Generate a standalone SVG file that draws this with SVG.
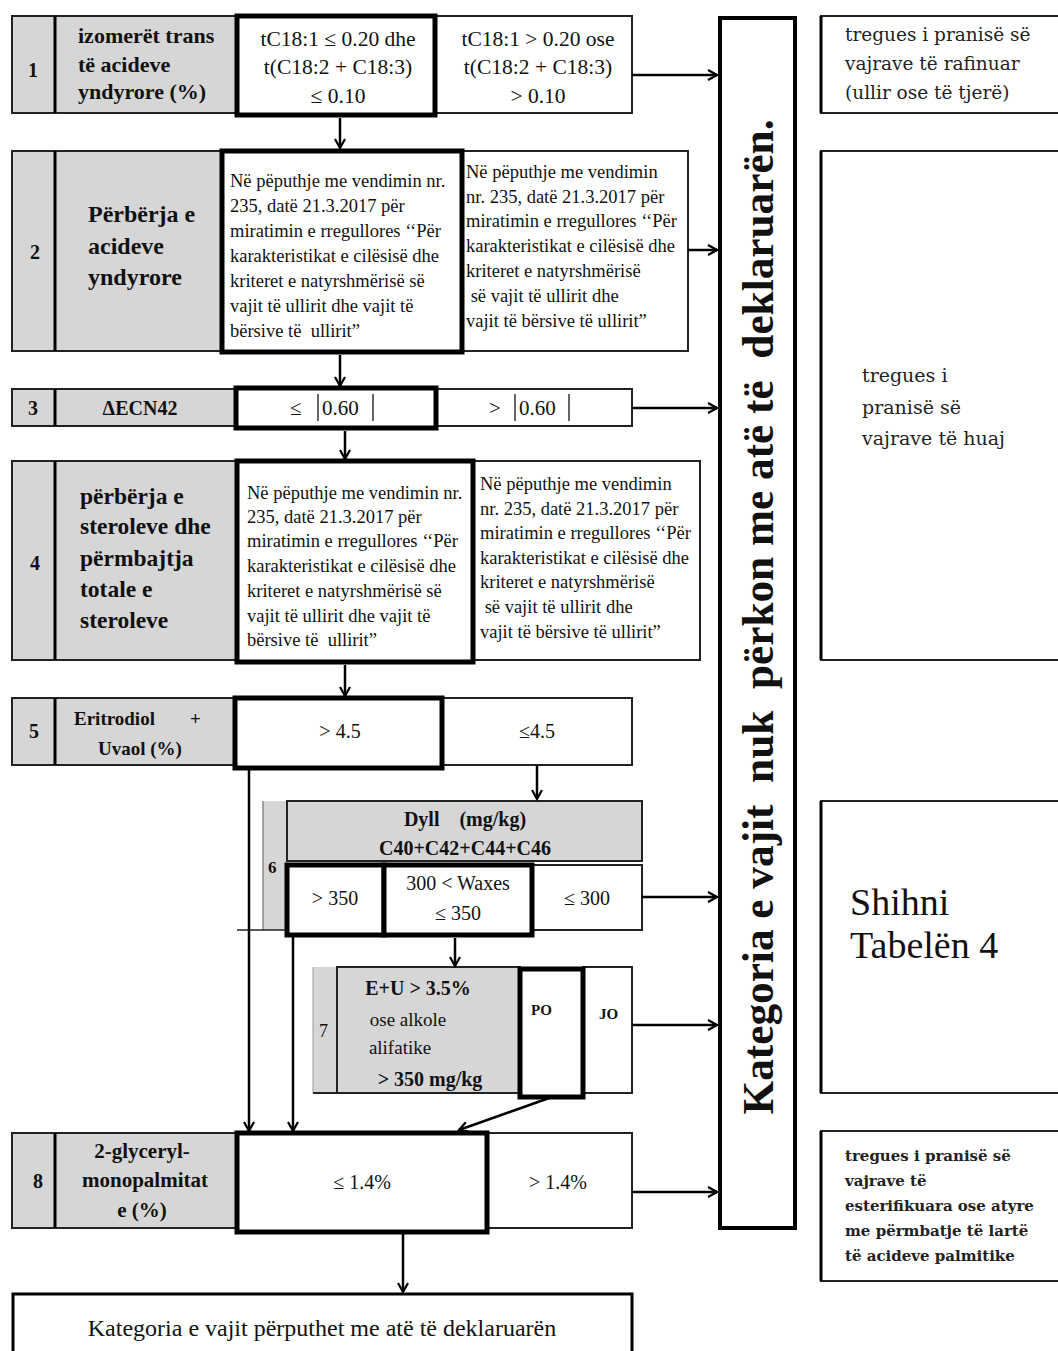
<svg xmlns="http://www.w3.org/2000/svg" width="1058" height="1351" viewBox="0 0 1058 1351">
<style>
.g{fill:#d6d6d6;stroke:#222;stroke-width:2}
.w{fill:#fff;stroke:#222;stroke-width:2}
.k{fill:#fff;stroke:#000;stroke-width:5}
.d{stroke:#000;stroke-width:3}
.t{font-family:"Liberation Serif",serif;fill:#111}
.b{font-weight:bold}
.n{font-family:"Liberation Serif",serif;font-weight:bold;font-size:20px;fill:#111;text-anchor:middle}
.s{font-family:"Liberation Serif",serif;font-size:18.5px;fill:#111}
.c{text-anchor:middle}
.r{font-family:"DejaVu Serif",serif;fill:#222}
.con{stroke:#000;stroke-width:2.5;fill:none}
</style>
<defs>
<marker id="a" markerWidth="12" markerHeight="12" refX="10" refY="6" orient="auto" markerUnits="userSpaceOnUse">
<path d="M1,1 L10,6 L1,11" fill="none" stroke="#000" stroke-width="2.2"/>
</marker>
</defs>
<rect width="1058" height="1351" fill="#fff"/>

<g id="row1">
<rect class="g" x="12" y="16" width="43" height="97"/>
<rect class="g" x="55" y="16" width="182" height="97"/>
<rect class="w" x="435" y="16" width="197" height="97"/>
<rect class="k" x="237" y="16" width="198" height="99"/>
<line class="d" x1="55" y1="16" x2="55" y2="113"/>
<text class="n" x="33" y="77">1</text>
<text class="t b" font-size="22" x="78" y="43">izomerët trans</text>
<text class="t b" font-size="22" x="78" y="72">të acideve</text>
<text class="t b" font-size="22" x="78" y="99">yndyrore (%)</text>
<text class="t c" font-size="21.5" x="338" y="46">tC18:1 ≤ 0.20 dhe</text>
<text class="t c" font-size="21.5" x="338" y="74">t(C18:2 + C18:3)</text>
<text class="t c" font-size="21.5" x="338" y="103">≤ 0.10</text>
<text class="t c" font-size="21.5" x="538" y="46">tC18:1 &gt; 0.20 ose</text>
<text class="t c" font-size="21.5" x="538" y="74">t(C18:2 + C18:3)</text>
<text class="t c" font-size="21.5" x="538" y="103">&gt; 0.10</text>
</g>

<g id="row2">
<rect class="g" x="12" y="151" width="43" height="200"/>
<rect class="g" x="55" y="151" width="167" height="200"/>
<rect class="w" x="462" y="151" width="226" height="200"/>
<rect class="k" x="222" y="151" width="240" height="201"/>
<line class="d" x1="55" y1="151" x2="55" y2="351"/>
<text class="n" x="35" y="259">2</text>
<text class="t b" font-size="24" x="88" y="222">Përbërja e</text>
<text class="t b" font-size="24" x="88" y="254">acideve</text>
<text class="t b" font-size="24" x="88" y="285">yndyrore</text>
<text class="s" x="230" y="187">Në pëputhje me vendimin nr.</text>
<text class="s" x="230" y="212">235, datë 21.3.2017 për</text>
<text class="s" x="230" y="237">miratimin e rregullores ‘‘Për</text>
<text class="s" x="230" y="262">karakteristikat e cilësisë dhe</text>
<text class="s" x="230" y="287">kriteret e natyrshmërisë së</text>
<text class="s" x="230" y="312">vajit të ullirit dhe vajit të</text>
<text class="s" x="230" y="337" xml:space="preserve">bërsive të  ullirit”</text>
<text class="s" x="466" y="178">Në pëputhje me vendimin</text>
<text class="s" x="466" y="203">nr. 235, datë 21.3.2017 për</text>
<text class="s" x="466" y="227">miratimin e rregullores ‘‘Për</text>
<text class="s" x="466" y="252">karakteristikat e cilësisë dhe</text>
<text class="s" x="466" y="277">kriteret e natyrshmërisë</text>
<text class="s" x="466" y="302" xml:space="preserve"> së vajit të ullirit dhe</text>
<text class="s" x="466" y="327">vajit të bërsive të ullirit”</text>
</g>

<g id="row3">
<rect class="g" x="12" y="389" width="43" height="37"/>
<rect class="g" x="55" y="389" width="181" height="37"/>
<rect class="w" x="436" y="389" width="196" height="37"/>
<rect class="k" x="236" y="388" width="200" height="40"/>
<line class="d" x1="55" y1="389" x2="55" y2="426"/>
<text class="n" x="33" y="415">3</text>
<text class="t b c" font-size="20" x="140" y="415">ΔECN42</text>
<text class="t" font-size="21" x="290" y="415">≤</text>
<line x1="318" y1="394" x2="318" y2="421" stroke="#333" stroke-width="1.5"/>
<text class="t" font-size="21" x="322" y="415">0.60</text>
<line x1="373" y1="394" x2="373" y2="421" stroke="#333" stroke-width="1.5"/>
<text class="t" font-size="21" x="489" y="415">&gt;</text>
<line x1="515" y1="394" x2="515" y2="421" stroke="#333" stroke-width="1.5"/>
<text class="t" font-size="21" x="519" y="415">0.60</text>
<line x1="569" y1="394" x2="569" y2="421" stroke="#333" stroke-width="1.5"/>
</g>

<g id="row4">
<rect class="g" x="12" y="461" width="43" height="199"/>
<rect class="g" x="55" y="461" width="182" height="199"/>
<rect class="w" x="473" y="461" width="227" height="199"/>
<rect class="k" x="237" y="461" width="236" height="201"/>
<line class="d" x1="55" y1="461" x2="55" y2="660"/>
<text class="n" x="35" y="570">4</text>
<text class="t b" font-size="23.5" x="80" y="504">përbërja e</text>
<text class="t b" font-size="23.5" x="80" y="534">steroleve dhe</text>
<text class="t b" font-size="23.5" x="80" y="566">përmbajtja</text>
<text class="t b" font-size="23.5" x="80" y="597">totale e</text>
<text class="t b" font-size="23.5" x="80" y="628">steroleve</text>
<text class="s" x="247" y="499">Në pëputhje me vendimin nr.</text>
<text class="s" x="247" y="523">235, datë 21.3.2017 për</text>
<text class="s" x="247" y="547">miratimin e rregullores ‘‘Për</text>
<text class="s" x="247" y="572">karakteristikat e cilësisë dhe</text>
<text class="s" x="247" y="597">kriteret e natyrshmërisë së</text>
<text class="s" x="247" y="622">vajit të ullirit dhe vajit të</text>
<text class="s" x="247" y="646" xml:space="preserve">bërsive të  ullirit”</text>
<text class="s" x="480" y="490">Në pëputhje me vendimin</text>
<text class="s" x="480" y="515">nr. 235, datë 21.3.2017 për</text>
<text class="s" x="480" y="539">miratimin e rregullores ‘‘Për</text>
<text class="s" x="480" y="564">karakteristikat e cilësisë dhe</text>
<text class="s" x="480" y="588">kriteret e natyrshmërisë</text>
<text class="s" x="480" y="613" xml:space="preserve"> së vajit të ullirit dhe</text>
<text class="s" x="480" y="638">vajit të bërsive të ullirit”</text>
</g>

<g id="row5">
<rect class="g" x="12" y="698" width="43" height="67"/>
<rect class="g" x="55" y="698" width="180" height="67"/>
<rect class="w" x="442" y="698" width="190" height="67"/>
<rect class="k" x="235" y="698" width="207" height="70"/>
<line class="d" x1="55" y1="698" x2="55" y2="765"/>
<text class="n" x="34" y="738">5</text>
<text class="t b" font-size="19" x="74" y="725">Eritrodiol</text>
<text class="t b" font-size="19" x="190" y="725">+</text>
<text class="t b c" font-size="19" x="140" y="755">Uvaol (%)</text>
<text class="t c" font-size="20" x="340" y="738">&gt; 4.5</text>
<text class="t c" font-size="20" x="537" y="738">≤4.5</text>
</g>

<g id="row6">
<rect x="263" y="801" width="24" height="129" fill="#d6d6d6"/>
<line x1="263" y1="801" x2="263" y2="930" stroke="#888" stroke-width="1.5"/>
<rect class="g" x="287" y="801" width="355" height="60"/>
<rect class="w" x="532" y="865" width="110" height="65"/>
<rect class="k" x="287" y="865" width="97" height="70"/>
<rect class="k" x="384" y="865" width="148" height="70"/>
<text class="t b" font-size="17" x="268" y="873">6</text>
<text class="t b c" font-size="20" x="465" y="826" xml:space="preserve">Dyll    (mg/kg)</text>
<text class="t b c" font-size="20" x="465" y="855">C40+C42+C44+C46</text>
<text class="t c" font-size="20" x="335" y="905">&gt; 350</text>
<text class="t c" font-size="20" x="458" y="890">300 &lt; Waxes</text>
<text class="t c" font-size="20" x="458" y="920">≤ 350</text>
<text class="t c" font-size="20" x="587" y="905">≤ 300</text>
<line x1="237" y1="930" x2="287" y2="930" stroke="#222" stroke-width="1.5"/>
</g>

<g id="row7">
<rect x="313" y="967" width="24" height="126" fill="#d6d6d6"/>
<line x1="313" y1="967" x2="313" y2="1093" stroke="#999" stroke-width="1"/>
<rect class="g" x="337" y="967" width="183" height="126"/>
<rect class="w" x="583" y="967" width="49" height="126"/>
<rect class="k" x="520" y="969" width="63" height="128"/>
<line x1="313" y1="1093" x2="337" y2="1093" stroke="#222" stroke-width="2"/>
<text class="t" font-size="18" x="319" y="1037">7</text>
<text class="t b c" font-size="20" x="418" y="995">E+U &gt; 3.5%</text>
<text class="t c" font-size="19" x="408" y="1026">ose alkole</text>
<text class="t c" font-size="19" x="400" y="1054">alifatike</text>
<text class="t b c" font-size="20" x="430" y="1086">&gt; 350 mg/kg</text>
<text class="t b" font-size="15" x="531" y="1015">PO</text>
<text class="t b" font-size="15" x="599" y="1019">JO</text>
</g>

<g id="row8">
<rect class="g" x="12" y="1133" width="43" height="95"/>
<rect class="g" x="55" y="1133" width="182" height="95"/>
<rect class="w" x="487" y="1133" width="145" height="95"/>
<rect class="k" x="237" y="1133" width="250" height="99"/>
<line class="d" x1="55" y1="1133" x2="55" y2="1228"/>
<text class="n" x="38" y="1188">8</text>
<text class="t b c" font-size="21" x="142" y="1158">2-glyceryl-</text>
<text class="t b c" font-size="21" x="145" y="1187">monopalmitat</text>
<text class="t b c" font-size="21" x="142" y="1217">e (%)</text>
<text class="t c" font-size="20" x="362" y="1189">≤ 1.4%</text>
<text class="t c" font-size="20" x="558" y="1189">&gt; 1.4%</text>
</g>

<g id="final">
<rect x="13" y="1294" width="619" height="70" fill="#fff" stroke="#000" stroke-width="3"/>
<text class="t c" font-size="24" x="322" y="1336">Kategoria e vajit përputhet me atë të deklaruarën</text>
</g>

<g id="reject">
<rect x="720" y="18" width="75" height="1210" fill="#fff" stroke="#000" stroke-width="4"/>
<text class="t b c" font-size="44" transform="translate(773,617) rotate(-90)" textLength="995" lengthAdjust="spacingAndGlyphs" xml:space="preserve">Kategoria e vajit  nuk  përkon me atë të  deklaruarën.</text>
</g>

<g id="note1">
<rect x="821" y="16" width="260" height="97" fill="#fff" stroke="#222" stroke-width="2"/>
<line x1="821" y1="16" x2="821" y2="113" stroke="#000" stroke-width="3"/>
<text class="r" font-size="18.5" x="845" y="41">tregues i pranisë së</text>
<text class="r" font-size="18.5" x="845" y="70">vajrave të rafinuar</text>
<text class="r" font-size="18.5" x="845" y="99">(ullir ose të tjerë)</text>
</g>

<g id="note2">
<rect x="821" y="151" width="260" height="509" fill="#fff" stroke="#222" stroke-width="2"/>
<line x1="821" y1="151" x2="821" y2="660" stroke="#000" stroke-width="3"/>
<text class="r" font-size="19" x="862" y="382">tregues i</text>
<text class="r" font-size="19" x="862" y="414">pranisë së</text>
<text class="r" font-size="19" x="862" y="445">vajrave të huaj</text>
</g>

<g id="note3">
<rect x="821" y="801" width="260" height="292" fill="#fff" stroke="#222" stroke-width="2"/>
<line x1="821" y1="801" x2="821" y2="1093" stroke="#000" stroke-width="3"/>
<text class="t" font-size="38" x="850" y="915">Shihni</text>
<text class="t" font-size="38" x="850" y="958">Tabelën 4</text>
</g>

<g id="note4">
<rect x="821" y="1131" width="260" height="150" fill="#fff" stroke="#222" stroke-width="2"/>
<line x1="821" y1="1131" x2="821" y2="1281" stroke="#000" stroke-width="3"/>
<text class="r b" font-size="15" x="845" y="1161">tregues i pranisë së</text>
<text class="r b" font-size="15" x="845" y="1186">vajrave të</text>
<text class="r b" font-size="15" x="845" y="1211">esterifikuara ose atyre</text>
<text class="r b" font-size="15" x="845" y="1236">me përmbatje të lartë</text>
<text class="r b" font-size="15" x="845" y="1261">të acideve palmitike</text>
</g>

<g id="connectors">
<line class="con" x1="632" y1="75" x2="717" y2="75" marker-end="url(#a)"/>
<line class="con" x1="688" y1="250" x2="717" y2="250" marker-end="url(#a)"/>
<line class="con" x1="632" y1="408" x2="717" y2="408" marker-end="url(#a)"/>
<line class="con" x1="642" y1="897" x2="717" y2="897" marker-end="url(#a)"/>
<line class="con" x1="632" y1="1025" x2="717" y2="1025" marker-end="url(#a)"/>
<line class="con" x1="632" y1="1192" x2="717" y2="1192" marker-end="url(#a)"/>
<line class="con" x1="340" y1="118" x2="340" y2="148" marker-end="url(#a)"/>
<line class="con" x1="340" y1="355" x2="340" y2="386" marker-end="url(#a)"/>
<line class="con" x1="345" y1="431" x2="345" y2="459" marker-end="url(#a)"/>
<line class="con" x1="345" y1="665" x2="345" y2="696" marker-end="url(#a)"/>
<line class="con" x1="537" y1="765" x2="537" y2="799" marker-end="url(#a)"/>
<line class="con" x1="455" y1="938" x2="455" y2="966" marker-end="url(#a)"/>
<line class="con" x1="249" y1="768" x2="249" y2="1131" marker-end="url(#a)"/>
<line class="con" x1="293" y1="935" x2="293" y2="1131" marker-end="url(#a)"/>
<line class="con" x1="552" y1="1097" x2="459" y2="1130" marker-end="url(#a)"/>
<line class="con" x1="403" y1="1234" x2="403" y2="1292" marker-end="url(#a)"/>
</g>
</svg>
